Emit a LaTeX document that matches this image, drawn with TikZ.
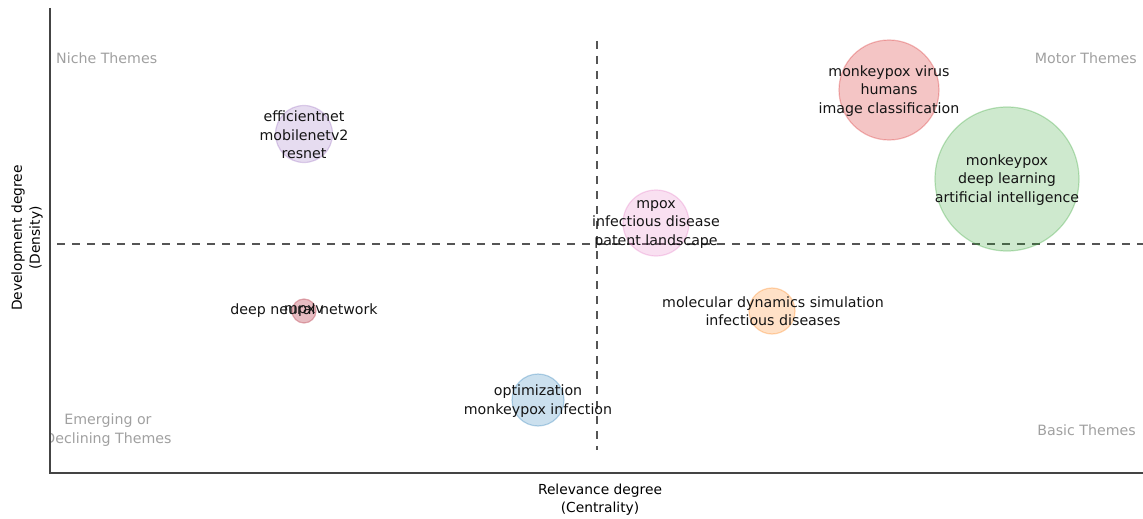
\documentclass[tikz,border=0pt]{standalone}
\usepackage{fontspec}
\usetikzlibrary{calc}
\setmainfont{DejaVu Sans}
\definecolor{pblue}{HTML}{1F77B4}
\definecolor{porange}{HTML}{FF7F0E}
\definecolor{pgreen}{HTML}{2CA02C}
\definecolor{pred}{HTML}{D62728}
\definecolor{ppurple}{HTML}{9467BD}
\definecolor{ppink}{HTML}{E377C2}
\definecolor{prose}{HTML}{C0505E}
\definecolor{axisgray}{HTML}{444444}
\definecolor{dashgray}{HTML}{555555}
\definecolor{quadgray}{HTML}{A0A0A0}
\definecolor{labelink}{HTML}{141414}
\tikzset{
  bubble/.style={circle, inner sep=0pt, fill=#1, fill opacity=0.23, draw=#1, draw opacity=0.3, line width=1.2pt},
  kw/.style={align=center, inner sep=0pt, text=labelink, font=\fontsize{14.2}{18.5}\selectfont},
  quad/.style={inner sep=0pt, text=quadgray, font=\fontsize{14.2}{18.5}\selectfont},
  axtitle/.style={align=center, inner sep=0pt, text=black, font=\fontsize{13.8}{18}\selectfont},
  axisline/.style={draw=axisgray, line width=1.5pt},
  divider/.style={draw=dashgray, line width=1.5pt, dash pattern=on 8pt off 7pt}
}
\begin{document}
\begin{tikzpicture}[x=1pt, y=-1pt]
\useasboundingbox (0,0) rectangle (1143,519);

% plot frame corners and divider ends
\coordinate (ytop) at (50,8);
\coordinate (origin) at (50,473);
\coordinate (xend) at (1143,473);
\coordinate (vtop) at (597,41);
\coordinate (vbot) at (597,450);
\coordinate (hleft) at (57,244);
\coordinate (hright) at (1143,244);

% quadrant dividers
\draw[divider] (vtop) -- (vbot);
\draw[divider] (hleft) -- (hright);

% theme bubbles
\node[bubble=ppurple, minimum size=57pt] (b1) at (304,134) {};
\node[bubble=pred, fill opacity=0.27, minimum size=100pt] (b2) at (889,90) {};
\node[bubble=pgreen, minimum size=144pt] (b3) at (1007,179) {};
\node[bubble=ppink, minimum size=66pt] (b4) at (656,223) {};
\node[bubble=porange, minimum size=46pt] (b5) at (772,311) {};
\node[bubble=pblue, minimum size=52pt] (b6) at (538,400) {};
\node[bubble=prose, fill opacity=0.38, draw opacity=0.45, minimum size=24pt] (b7) at (304,311) {};

% keyword labels
\node[kw] (t1) at ($(b1.center)+(0,1)$) {efficientnet\\mobilenetv2\\resnet};
\node[kw] (t2) at ($(b2.center)+(0,1)$) {monkeypox virus\\humans\\image classification};
\node[kw] (t3) at ($(b3.center)+(0,1)$) {monkeypox\\deep learning\\artificial intelligence};
\node[kw] (t4) at ($(b4.center)+(0,1)$) {mpox\\infectious disease\\patent landscape};
\node[kw] (t5) at ($(b5.center)+(1,0)$) {molecular dynamics simulation\\infectious diseases};
\node[kw] (t6) at ($(b6.center)+(0,1)$) {optimization\\monkeypox infection};
\node[kw] (t7) at (b7.center) {deep neural network};
\node[kw] (t8) at (b7.center) {mpxv};

% quadrant names
\begin{scope}
\clip (50,0) rectangle (1143,473);
\node[quad, anchor=west] (q1) at (56,58) {Niche Themes};
\node[quad, anchor=east] (q2) at (1137,58) {Motor Themes};
\node[quad, anchor=east] (q4) at (1136,430) {Basic Themes};
\node[quad, align=center] (q3) at (108,430) {Emerging or\\Declining Themes};
\end{scope}

% axes
\draw[axisline] (ytop) -- (origin) -- (xend);

% axis titles
\node[axtitle] (xt) at (600,500) {Relevance degree\\(Centrality)};
\node[axtitle, rotate=90] (yt) at (27,238) {Development degree\\(Density)};
\end{tikzpicture}
\end{document}
